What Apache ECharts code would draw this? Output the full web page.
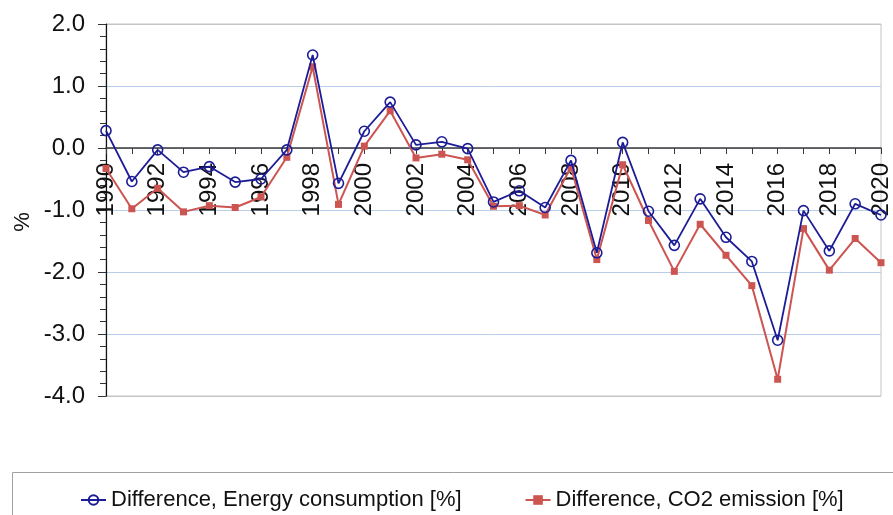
<!DOCTYPE html>
<html>
<head>
<meta charset="utf-8">
<script src="https://cdn.jsdelivr.net/npm/echarts@6/dist/echarts.min.js"></script>
<style>
html,body{margin:0;padding:0;background:#fff;}
#chart{width:893px;height:515px;}
</style>
</head>
<body>
<div id="chart"></div>
<script>
var years = ['1990','1991','1992','1993','1994','1995','1996','1997','1998','1999','2000','2001','2002','2003','2004','2005','2006','2007','2008','2009','2010','2011','2012','2013','2014','2015','2016','2017','2018','2019','2020'];
var energyDiff = [0.28,-0.54,-0.03,-0.39,-0.30,-0.55,-0.50,-0.03,1.50,-0.57,0.27,0.74,0.05,0.10,-0.01,-0.87,-0.69,-0.96,-0.20,-1.69,0.09,-1.02,-1.57,-0.82,-1.44,-1.83,-3.10,-1.01,-1.66,-0.90,-1.08];
var co2Diff = [-0.33,-0.98,-0.65,-1.03,-0.93,-0.96,-0.79,-0.15,1.31,-0.91,0.03,0.60,-0.16,-0.10,-0.19,-0.94,-0.93,-1.08,-0.31,-1.80,-0.27,-1.17,-1.99,-1.23,-1.73,-2.22,-3.73,-1.30,-1.97,-1.46,-1.85];
var energyName = 'Difference, Energy consumption [%]';
var co2Name = 'Difference, CO2 emission [%]';
var yMin = -4, yMax = 2, yStep = 1;

var FONT = "'Liberation Sans', Arial, sans-serif";
var gridTop = 24, gridBottomPx = 396;
var zeroOffset = -(gridBottomPx - gridTop) * (0 - yMin) / (yMax - yMin);

var chart = echarts.init(document.getElementById('chart'), null, {renderer:'canvas'});
chart.setOption({
  animation: false,
  backgroundColor: '#ffffff',
  grid: {left:106, right:6, top:gridTop, bottom:515 - gridBottomPx, show:true, borderColor:'#c4c4c4', borderWidth:1},
  graphic: [
    {type:'rect', shape:{x:12.5, y:472.5, width:900, height:60}, style:{fill:'none', stroke:'#a0a0a0', lineWidth:1}, z:-1},
    {type:'text', x:23, y:222, rotation:Math.PI/2, style:{text:'%', font:'22px ' + FONT, fill:'#111', align:'center', verticalAlign:'middle'}}
  ],
  legend: {
    left: 75, top: 484,
    data: [energyName, co2Name],
    itemWidth: 25, itemHeight: 12, itemGap: 63,
    textStyle: {fontFamily: FONT, fontSize: 22, color:'#111'}
  },
  xAxis: {
    type: 'category', data: years, boundaryGap: false,
    offset: zeroOffset,
    axisLine: {onZero: false, lineStyle: {color:'#3a3a3a', width:1.5}},
    axisTick: {show:true, interval:0, length:6, lineStyle:{color:'#3a3a3a'}},
    axisLabel: {interval:1, rotate:90, margin:15, fontFamily:FONT, fontSize:24, color:'#111'},
    splitLine: {show:false}
  },
  yAxis: {
    type: 'value', min: yMin, max: yMax, interval: yStep,
    axisLine: {show:true, lineStyle:{color:'#111', width:1.2}},
    axisTick: {show:true, length:8, lineStyle:{color:'#333'}},
    minorTick: {show:true, splitNumber:5, length:6, lineStyle:{color:'#333'}},
    axisLabel: {margin:21, fontFamily:FONT, fontSize:24, color:'#111', formatter: function(v){return v.toFixed(1);}},
    splitLine: {show:true, lineStyle:{color:['#c4c4c4','#b9cde8','#b9cde8','#b9cde8','#b9cde8','#b9cde8','#c4c4c4'], width:1}}
  },
  series: [
    {name: co2Name, type:'line', data: co2Diff, symbol:'rect', symbolSize:7,
     lineStyle:{color:'#cc5552', width:2}, itemStyle:{color:'#cc5552', borderWidth:0}, z:2},
    {name: energyName, type:'line', data: energyDiff, symbol:'circle', symbolSize:10,
     lineStyle:{color:'#1c1c96', width:1.8}, itemStyle:{color:'rgba(255,255,255,0)', borderColor:'#1c1c96', borderWidth:1.6}, z:3}
  ]
});
</script>
</body>
</html>
